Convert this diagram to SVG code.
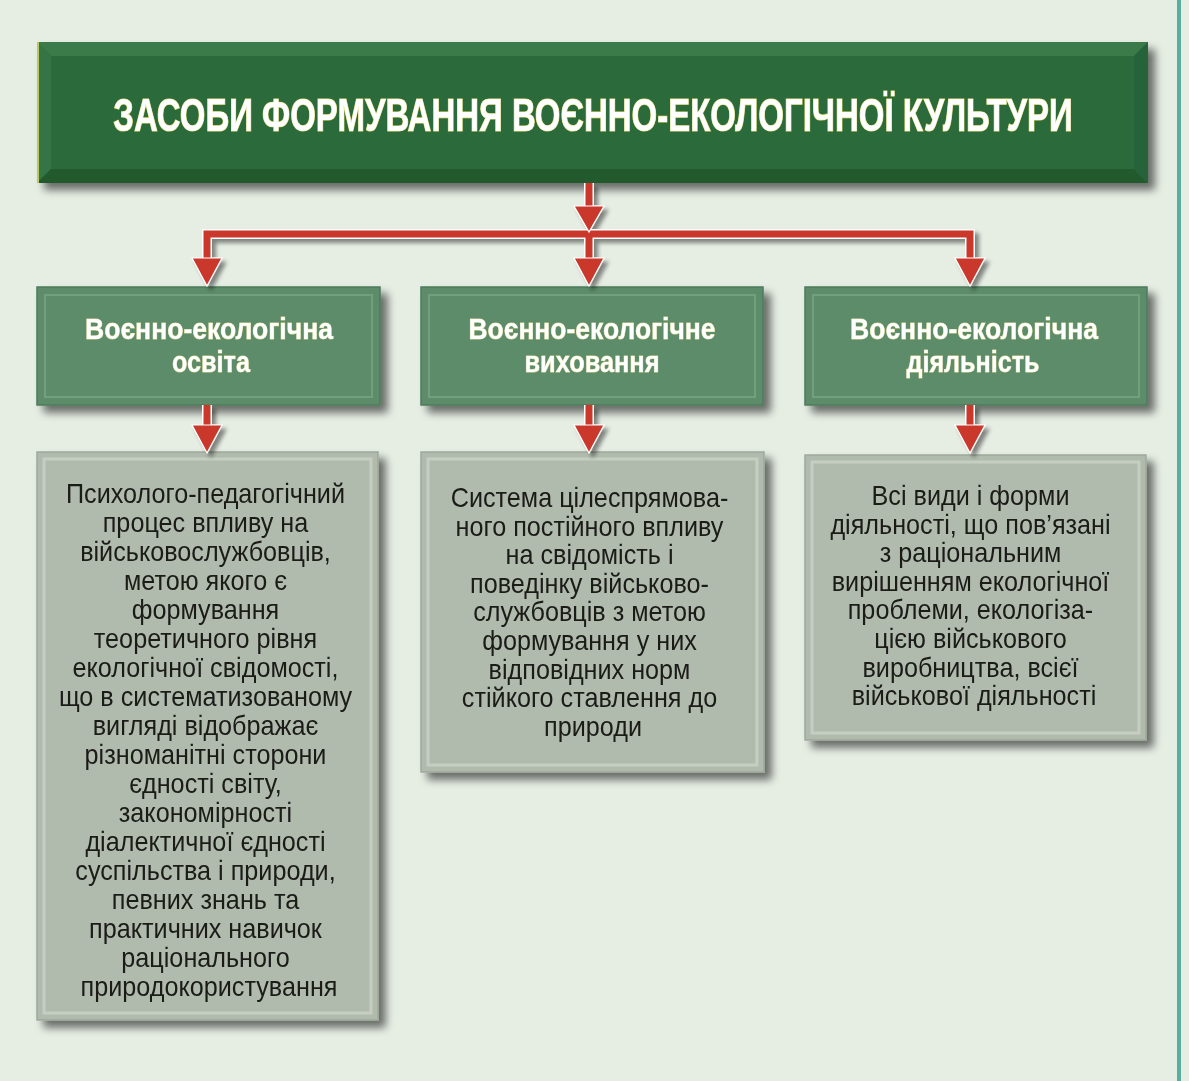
<svg xmlns="http://www.w3.org/2000/svg" width="1189" height="1081" viewBox="0 0 1189 1081">
<defs>
<filter id="sh" x="-10%" y="-10%" width="130%" height="130%">
<feGaussianBlur in="SourceAlpha" stdDeviation="4"/>
<feOffset dx="7" dy="7" result="b"/>
<feComponentTransfer><feFuncA type="linear" slope="0.55"/></feComponentTransfer>
<feMerge><feMergeNode/><feMergeNode in="SourceGraphic"/></feMerge>
</filter>
<filter id="ash" x="-10%" y="-10%" width="130%" height="130%">
<feGaussianBlur in="SourceAlpha" stdDeviation="2"/>
<feOffset dx="4" dy="4" result="b"/>
<feComponentTransfer><feFuncA type="linear" slope="0.45"/></feComponentTransfer>
<feMerge><feMergeNode/><feMergeNode in="SourceGraphic"/></feMerge>
</filter>
</defs>
<style>
.bg{fill:#e6eee4}
.t2{fill:#5b8c6a;stroke:#4c7b5a;stroke-width:1.5}
.t2i{fill:none;stroke:#72a07f;stroke-width:2}
.t3{fill:#b1bbad;stroke:#9ea99b;stroke-width:1.5}
.t3i{fill:none;stroke:#c6cec2;stroke-width:3}
.ttl{font-family:"Liberation Sans",Arial,sans-serif;font-weight:bold;font-size:46px;fill:#ffffff;stroke:#e2da6a;stroke-width:1.2;paint-order:stroke;text-anchor:middle}
.h2{font-family:"Liberation Sans",Arial,sans-serif;font-weight:bold;font-size:30px;fill:#ffffff;stroke:#dcd88a;stroke-width:0.8;paint-order:stroke;text-anchor:middle}
.bd{font-family:"Liberation Sans",Arial,sans-serif;font-size:28px;fill:#1a1a18;text-anchor:middle}
.ln{fill:none;stroke:#c9372c;stroke-width:7;stroke-linejoin:miter}
.lnw{fill:none;stroke:#ffffff;stroke-width:10;stroke-linejoin:miter}
.hd{fill:#c9372c;stroke:#ffffff;stroke-width:1.2}
</style>
<rect class="bg" x="0" y="0" width="1189" height="1081"/>
<rect x="1177" y="0" width="4" height="1081" fill="#5aae9c"/>

<g id="title" filter="url(#sh)">
<rect x="37" y="42" width="1111" height="141" fill="#2c6b3a"/>
<polygon points="37,42 1148,42 1134,56 51,56" fill="#3a7a48"/>
<polygon points="37,42 51,56 51,169 37,183" fill="#357444"/>
<polygon points="37,183 51,169 1134,169 1148,183" fill="#215a2d"/>
<polygon points="1148,42 1148,183 1134,169 1134,56" fill="#28633a"/>
<rect x="37" y="42" width="2" height="141" fill="#b9c860"/>
<g transform="translate(593,0) scale(0.717,1)">
<text class="ttl" x="0" y="131">ЗАСОБИ ФОРМУВАННЯ ВОЄННО-ЕКОЛОГІЧНОЇ КУЛЬТУРИ</text>
</g>
</g>

<g id="edu" filter="url(#sh)">
<rect class="t2" x="37" y="287" width="343" height="118"/>
<rect class="t2i" x="45" y="295" width="327" height="102"/>
<text class="h2" x="209" y="339" textLength="248" lengthAdjust="spacingAndGlyphs">Воєнно-екологічна</text>
<text class="h2" x="211" y="372" textLength="78" lengthAdjust="spacingAndGlyphs">освіта</text>
</g>
<g id="upbringing" filter="url(#sh)">
<rect class="t2" x="421" y="287" width="342" height="118"/>
<rect class="t2i" x="429" y="295" width="326" height="102"/>
<text class="h2" x="592" y="339" textLength="247" lengthAdjust="spacingAndGlyphs">Воєнно-екологічне</text>
<text class="h2" x="592" y="372" textLength="135" lengthAdjust="spacingAndGlyphs">виховання</text>
</g>
<g id="activity" filter="url(#sh)">
<rect class="t2" x="805" y="287" width="342" height="118"/>
<rect class="t2i" x="813" y="295" width="326" height="102"/>
<text class="h2" x="974" y="339" textLength="248" lengthAdjust="spacingAndGlyphs">Воєнно-екологічна</text>
<text class="h2" x="973" y="372" textLength="133" lengthAdjust="spacingAndGlyphs">діяльність</text>
</g>

<g id="edu-desc" filter="url(#sh)">
<rect class="t3" x="37" y="452" width="341" height="568"/>
<rect class="t3i" x="44" y="459" width="327" height="554"/>
<g transform="translate(209,0) scale(0.9,1)">
<text class="bd">
<tspan x="0" y="503">Психолого-педагогічний</tspan>
<tspan x="0" y="532">процес впливу на</tspan>
<tspan x="0" y="561">військовослужбовців,</tspan>
<tspan x="0" y="590">метою якого є</tspan>
<tspan x="0" y="619">формування</tspan>
<tspan x="0" y="648">теоретичного рівня</tspan>
<tspan x="0" y="677">екологічної свідомості,</tspan>
<tspan x="0" y="706">що в систематизованому</tspan>
<tspan x="0" y="735">вигляді відображає</tspan>
<tspan x="0" y="764">різноманітні сторони</tspan>
<tspan x="0" y="793">єдності світу,</tspan>
<tspan x="0" y="822">закономірності</tspan>
<tspan x="0" y="851">діалектичної єдності</tspan>
<tspan x="0" y="880">суспільства і природи,</tspan>
<tspan x="0" y="909">певних знань та</tspan>
<tspan x="0" y="938">практичних навичок</tspan>
<tspan x="0" y="967">раціонального</tspan>
<tspan x="0" y="996">природокористування</tspan>
</text>
</g>
</g>

<g id="upbringing-desc" filter="url(#sh)">
<rect class="t3" x="421" y="452" width="343" height="320"/>
<rect class="t3i" x="428" y="459" width="329" height="306"/>
<g transform="translate(593,0) scale(0.9,1)">
<text class="bd">
<tspan x="0" y="507">Система цілеспрямова-</tspan>
<tspan x="0" y="535.6">ного постійного впливу</tspan>
<tspan x="0" y="564.2">на свідомість і</tspan>
<tspan x="0" y="592.8">поведінку військово-</tspan>
<tspan x="0" y="621.4">службовців з метою</tspan>
<tspan x="0" y="650">формування у них</tspan>
<tspan x="0" y="678.6">відповідних норм</tspan>
<tspan x="0" y="707.2">стійкого ставлення до</tspan>
<tspan x="0" y="735.8">природи</tspan>
</text>
</g>
</g>

<g id="activity-desc" filter="url(#sh)">
<rect class="t3" x="805" y="455" width="341" height="285"/>
<rect class="t3i" x="812" y="462" width="327" height="271"/>
<g transform="translate(974,0) scale(0.9,1)">
<text class="bd">
<tspan x="0" y="505">Всі види і форми</tspan>
<tspan x="0" y="533.6">діяльності, що пов’язані</tspan>
<tspan x="0" y="562.2">з раціональним</tspan>
<tspan x="0" y="590.8">вирішенням екологічної</tspan>
<tspan x="0" y="619.4">проблеми, екологіза-</tspan>
<tspan x="0" y="648">цією військового</tspan>
<tspan x="0" y="676.6">виробництва, всієї</tspan>
<tspan x="0" y="705.2">військової діяльності</tspan>
</text>
</g>
</g>

<g id="connectors" filter="url(#ash)">
<path class="lnw" d="M589 183 V210 M207 262 V234 H970 V262 M589 234 V262 M207 405 V428 M589 405 V428 M970 405 V428"/>
<path class="ln" d="M589 183 V210 M207 262 V234 H970 V262 M589 234 V262 M207 405 V428 M589 405 V428 M970 405 V428"/>
<polygon class="hd" points="574,206 604,206 589,232"/>
<polygon class="hd" points="192,258 222,258 207,286"/>
<polygon class="hd" points="574,258 604,258 589,286"/>
<polygon class="hd" points="955,258 985,258 970,286"/>
<polygon class="hd" points="192,425 222,425 207,453"/>
<polygon class="hd" points="574,425 604,425 589,453"/>
<polygon class="hd" points="955,425 985,425 970,453"/>
</g>
</svg>
